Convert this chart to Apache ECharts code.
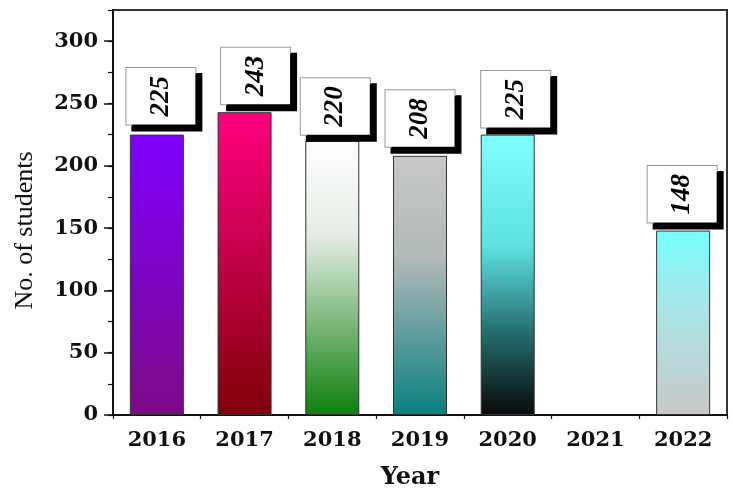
<!DOCTYPE html>
<html>
<head>
<meta charset="utf-8">
<script src="https://cdn.jsdelivr.net/npm/echarts@6/dist/echarts.min.js"></script>
<style>
html,body{margin:0;padding:0;background:#fff;}
#chart{width:733px;height:488px;}
</style>
</head>
<body>
<div id="chart"></div>
<script>
var categories = ['2016', '2017', '2018', '2019', '2020', '2021', '2022'];
var students = [225, 243, 220, 208, 225, null, 148];
var yTickValues = [0, 50, 100, 150, 200, 250, 300];

// vertical gradient stops per bar (top -> bottom)
var barGradients = [
  [[0, '#7f00ff'], [1, '#7c0a86']],
  [[0, '#ff0080'], [1, '#800008']],
  [[0, '#ffffff'], [0.35, '#e4ece4'], [1, '#0c800c']],
  [[0, '#c8c8c8'], [0.4, '#b0b8b8'], [1, '#0a8080']],
  [[0, '#80ffff'], [0.4, '#5ee0e0'], [0.7, '#267070'], [1, '#080808']],
  null,
  [[0, '#78ffff'], [0.4, '#a8e6e6'], [1, '#c8c8c8']]
];
// small per-label nudges of the value boxes (label-local frame)
var labelNudges = [[1, 4], [-1, 11], [-3, 3], [0, 0], [-2, 8], null, [-1, -1]];

function gradient(stops) {
  return new echarts.graphic.LinearGradient(0, 0, 0, 1, stops.map(function (s) {
    return { offset: s[0], color: s[1] };
  }));
}

var barData = students.map(function (v, i) {
  if (v === null) return '-';
  return {
    value: v,
    itemStyle: { color: gradient(barGradients[i]) },
    label: { offset: labelNudges[i] }
  };
});

var chart = echarts.init(document.getElementById('chart'), null, { renderer: 'canvas' });
chart.setOption({
  backgroundColor: '#ffffff',
  animation: false,
  grid: {
    left: 113, right: 6, top: 10, bottom: 73,
    outerBoundsMode: 'none',
    containLabel: false,
    show: true, borderColor: '#333', borderWidth: 2, backgroundColor: 'transparent'
  },
  xAxis: [{
    type: 'category',
    data: categories,
    boundaryGap: true,
    axisLine: { lineStyle: { color: '#111', width: 2 } },
    axisTick: { alignWithLabel: true, length: 8, lineStyle: { color: '#111', width: 1.5 } },
    axisLabel: {
      fontFamily: 'DejaVu Serif', fontWeight: 'bold', fontSize: 21, color: '#111', margin: 15
    },
    name: 'Year',
    nameLocation: 'middle',
    nameGap: 51,
    nameTextStyle: {
      fontFamily: 'DejaVu Serif', fontWeight: 'bold', fontSize: 24, color: '#111',
      padding: [0, 20, 0, 0]
    }
  }, {
    type: 'category',
    data: categories,
    position: 'bottom',
    boundaryGap: true,
    axisLine: { show: false },
    axisTick: { show: true, length: 4, lineStyle: { color: '#111', width: 1.2 } },
    axisLabel: { show: false }
  }],
  yAxis: [{
    type: 'value',
    min: 0, max: 325, interval: 50,
    axisLine: { show: true, lineStyle: { color: '#111', width: 2 } },
    axisTick: { show: true, length: 9, lineStyle: { color: '#111', width: 1.5 } },
    splitLine: { show: false },
    axisLabel: {
      fontFamily: 'DejaVu Serif', fontWeight: 'bold', fontSize: 21, color: '#111', margin: 15,
      showMaxLabel: false,
      formatter: function (v) { return yTickValues.indexOf(v) >= 0 ? String(v) : ''; }
    },
    name: 'No. of students',
    nameLocation: 'middle',
    nameGap: 75,
    nameTextStyle: {
      fontFamily: 'Liberation Serif', fontSize: 26, color: '#111',
      padding: [0, 36, 0, 0]
    }
  }, {
    type: 'value',
    position: 'left',
    min: 0, max: 325, interval: 25,
    axisLine: { show: false },
    axisTick: { show: true, length: 5, lineStyle: { color: '#111', width: 1.2 } },
    splitLine: { show: false },
    axisLabel: { show: false }
  }],
  series: [{
    type: 'bar',
    xAxisIndex: 0,
    yAxisIndex: 0,
    data: barData,
    barWidth: 54,
    itemStyle: { borderColor: '#333', borderWidth: 1 },
    label: {
      show: true,
      position: 'top',
      rotate: 90,
      align: 'left',
      verticalAlign: 'middle',
      distance: 9,
      fontFamily: 'Liberation Serif',
      fontStyle: 'italic',
      fontWeight: 'bold',
      fontSize: 27,
      lineHeight: 27,
      color: '#000',
      backgroundColor: '#ffffff',
      borderColor: '#999',
      borderWidth: 1,
      padding: [21, 8, 21, 8],
      shadowColor: '#000',
      shadowBlur: 0,
      shadowOffsetX: 6,
      shadowOffsetY: 6
    }
  }]
});
</script>
</body>
</html>
